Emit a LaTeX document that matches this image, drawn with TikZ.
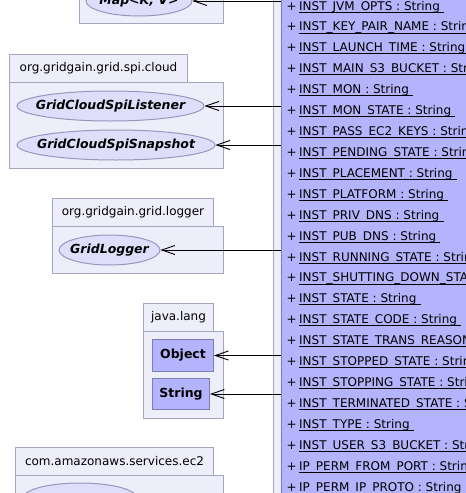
\documentclass[tikz,border=0pt]{standalone}
\usepackage{fontspec}
\setmainfont{DejaVu Sans}
\usepackage[dvipsnames]{xcolor}
\usetikzlibrary{arrows.meta,shapes.geometric}

\definecolor{pkgfill}{RGB}{238,238,250}
\definecolor{pkgline}{RGB}{165,165,190}
\definecolor{ifacefill}{RGB}{222,222,250}
\definecolor{ifaceline}{RGB}{150,150,190}
\definecolor{clsfill}{RGB}{180,180,252}
\definecolor{clsline}{RGB}{125,125,180}

\newcommand{\umlfont}{\fontsize{12}{14}\selectfont}
\newcommand{\umlbold}{\fontsize{12.5}{14}\selectfont\bfseries}
\newcommand{\zw}[1]{\makebox[0pt]{#1}}

\tikzset{
    pkg/.style={draw=pkgline, fill=pkgfill, line width=1pt, inner sep=0pt, anchor=north west},
    iface/.style={ellipse, draw=ifaceline, fill=ifacefill, line width=1pt, inner sep=0pt,
        minimum height=30pt, font=\umlbold\itshape},
    cls/.style={draw=clsline, fill=clsfill, line width=1pt, inner sep=0pt, anchor=north west,
        font=\umlbold},
    dep/.style={line width=0.9pt, -{Straight Barb[length=13pt,width=9pt]}},
    field/.style={anchor=base west, inner sep=0pt}
}

\begin{document}
\begin{tikzpicture}[x=1pt, y=-1pt, font=\umlfont]
    \useasboundingbox (0,0) rectangle (466,493);
    \clip (0,0) rectangle (466,493);
    % Packages on the left
    \node[pkg, minimum width=144pt, minimum height=60pt, anchor=south west] (utilpkg) at (79,24) {};
    \node[pkg, minimum width=178pt, minimum height=28pt] (cloudtab) at (9,54) {org.gridgain.grid.spi.cloud};
    \node[pkg, minimum width=214pt, minimum height=86pt] (cloudpkg) at (9,82) {};
    \node[pkg, minimum width=161pt, minimum height=28pt] (loggertab) at (52,198) {org.gridgain.grid.logger};
    \node[pkg, minimum width=171pt, minimum height=47pt] (loggerpkg) at (52,226) {};
    \node[pkg, minimum width=70pt, minimum height=28pt] (langtab) at (143,303) {java.lang};
    \node[pkg, minimum width=80pt, minimum height=87pt] (langpkg) at (143,331) {};
    \node[pkg, minimum width=198pt, minimum height=28pt] (awstab) at (15,447) {com.amazonaws.services.ec2};
    \node[pkg, minimum width=208pt, minimum height=60pt] (awspkg) at (15,475) {};
    % Interfaces and classes
    \node[iface, minimum width=106pt] (mapkv) at (139,1) {\zw{Map<K, V>}};
    \node[iface, minimum width=187pt] (listener) at (110.5,106) {\zw{GridCloudSpiListener}};
    \node[iface, minimum width=198pt] (snapshot) at (116,145) {\zw{GridCloudSpiSnapshot}};
    \node[iface, minimum width=101pt] (logger) at (109.5,250) {\zw{GridLogger}};
    \node[cls, minimum width=61pt, minimum height=32pt] (object) at (152,339) {Object};
    \node[cls, minimum width=57pt, minimum height=31pt] (string) at (152,378) {String};
    \node[iface, minimum width=114pt] (awsiface) at (80,498) {};
    % Class with its constants
    \node[pkg, minimum width=220pt, minimum height=520pt] (ec2pkg) at (273,-10) {};
    \node[cls, minimum width=200pt, minimum height=520pt] (ec2cls) at (281,-10) {};
    \foreach \name [count=\i from 0] in {INST\_JVM\_OPTS, INST\_KEY\_PAIR\_NAME, INST\_LAUNCH\_TIME,
        INST\_MAIN\_S3\_BUCKET, INST\_MON, INST\_MON\_STATE, INST\_PASS\_EC2\_KEYS,
        INST\_PENDING\_STATE, INST\_PLACEMENT, INST\_PLATFORM, INST\_PRIV\_DNS, INST\_PUB\_DNS,
        INST\_RUNNING\_STATE, INST\_SHUTTING\_DOWN\_STATE, INST\_STATE, INST\_STATE\_CODE,
        INST\_STATE\_TRANS\_REASON, INST\_STOPPED\_STATE, INST\_STOPPING\_STATE,
        INST\_TERMINATED\_STATE, INST\_TYPE, INST\_USER\_S3\_BUCKET, IP\_PERM\_FROM\_PORT,
        IP\_PERM\_IP\_PROTO} {
        \node[field] (p\i) at (286.5,{10+20.92*\i}) {+};
        \node[field] (f\i) at (299,{10+20.92*\i}) {\name\ : String\kern4pt};
        \draw[line width=0.8pt] ([yshift=-2pt]f\i.base west) -- ([yshift=-2pt]f\i.base east);
    }
    % Dependencies
    \draw[dep] (mapkv -| ec2cls.west) -- (mapkv);
    \draw[dep] (listener -| ec2cls.west) -- (listener);
    \draw[dep] (snapshot -| ec2cls.west) -- (snapshot);
    \draw[dep] (logger -| ec2cls.west) -- (logger);
    \draw[dep] (object -| ec2cls.west) -- (object);
    \draw[dep] (string -| ec2cls.west) -- (string);
\end{tikzpicture}
\end{document}
